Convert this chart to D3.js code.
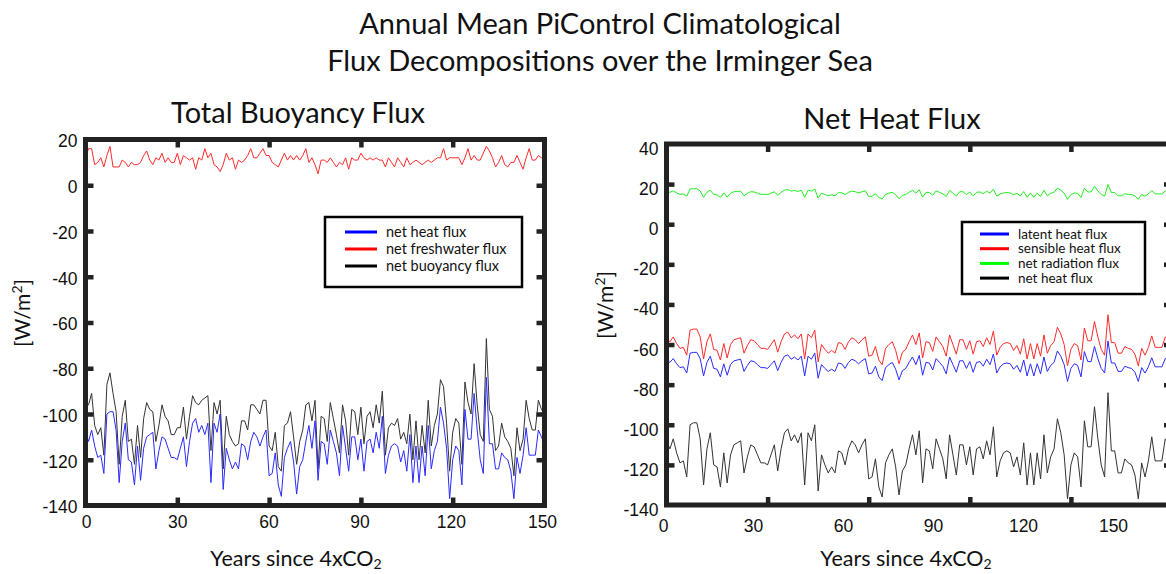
<!DOCTYPE html>
<html><head><meta charset="utf-8">
<script src="https://cdn.jsdelivr.net/npm/d3@7"></script>
<style>body{margin:0;background:#fff}svg{display:block}</style>
</head><body>
<svg id="chart" width="1166" height="574"></svg>
<script>
// ---------- data (annual means, W/m^2), years 0..150 ----------
const years = d3.range(0, 151);
const xTickValues = [0, 30, 60, 90, 120, 150];
const xTickMarks = [30, 60, 90, 120];
const yTicksLeft = [20, 0, -20, -40, -60, -80, -100, -120, -140];
const yTicksRight = [40, 20, 0, -20, -40, -60, -80, -100, -120, -140];

const netHeatFlux = [
-108,-112,-107,-114,-119,-118,-126,-100,-99,-99,
-107,-130,-112,-104,-120,-121,-131,-114,-129,-115,
-110,-109,-108,-124,-116,-110,-111,-115,-119,-119,
-120,-115,-110,-123,-112,-104,-102,-108,-105,-109,
-104,-130,-104,-108,-100,-133,-115,-120,-124,-121,
-124,-113,-114,-120,-112,-108,-110,-114,-110,-107,
-127,-126,-117,-131,-136,-119,-115,-112,-121,-135,
-123,-120,-112,-105,-115,-103,-129,-112,-113,-122,
-107,-112,-117,-127,-105,-115,-125,-110,-110,-120,
-111,-125,-112,-111,-117,-108,-115,-101,-126,-118,
-114,-113,-114,-121,-116,-125,-109,-130,-114,-130,
-114,-127,-105,-124,-116,-112,-97,-104,-115,-137,
-120,-114,-116,-131,-98,-111,-111,-91,-107,-120,
-126,-84,-113,-113,-124,-124,-117,-119,-120,-125,
-137,-119,-126,-118,-106,-118,-118,-118,-107,-110,
-113];

const netFreshwaterFlux = [
12,16,16,9,10,12,8,13,17,8,
8,8,11,10,8,10,9,9,10,13,
15,11,9,12,11,14,10,12,10,10,
14,9,13,12,11,12,7,12,11,16,
12,14,9,8,6,9,14,11,12,7,
11,10,11,13,16,12,12,14,16,13,
13,10,9,8,11,14,11,13,11,13,
11,13,16,10,12,9,5,11,11,10,
12,10,8,10,9,12,7,12,11,11,
14,12,11,12,11,12,11,11,8,12,
10,8,12,10,8,12,9,10,11,10,
9,10,11,10,11,12,12,16,11,12,
12,12,12,9,12,16,11,13,11,11,
14,17,15,12,8,10,13,9,8,10,
10,13,10,7,12,16,11,11,13,12,
13];

const netBuoyancyFlux = [
-96,-96,-91,-105,-109,-106,-118,-87,-82,-91,
-99,-122,-101,-94,-112,-111,-122,-105,-119,-102,
-95,-98,-99,-112,-105,-96,-101,-103,-109,-109,
-106,-106,-97,-111,-101,-92,-95,-96,-94,-93,
-92,-116,-95,-100,-94,-124,-101,-109,-112,-114,
-113,-103,-103,-107,-96,-96,-98,-100,-94,-94,
-114,-116,-108,-123,-125,-105,-104,-99,-110,-122,
-112,-107,-96,-95,-103,-94,-124,-101,-102,-112,
-95,-102,-109,-117,-96,-103,-118,-98,-99,-109,
-97,-113,-101,-99,-106,-96,-104,-90,-118,-106,
-104,-105,-102,-111,-108,-113,-100,-120,-103,-120,
-105,-117,-94,-114,-105,-100,-85,-88,-104,-125,
-108,-102,-104,-122,-86,-95,-100,-78,-96,-109,
-112,-67,-98,-101,-116,-114,-104,-110,-112,-115,
-127,-106,-116,-111,-94,-102,-107,-107,-94,-98,
-100];

const sensibleHeatFlux = [
-56.6,-58.6,-56.2,-59.5,-61.9,-61.4,-65.3,-52.8,-52.3,-52.3,
-56.2,-67.2,-58.6,-54.7,-62.4,-62.9,-67.7,-59.5,-66.7,-60,
-57.6,-57.1,-56.6,-64.3,-60.5,-57.6,-58.1,-60,-61.9,-61.9,
-62.4,-60,-57.6,-63.8,-58.6,-54.7,-53.8,-56.6,-55.2,-57.1,
-54.7,-67.2,-54.7,-56.6,-52.8,-68.6,-60,-62.4,-64.3,-62.9,
-64.3,-59,-59.5,-62.4,-58.6,-56.6,-57.6,-59.5,-57.6,-56.2,
-65.8,-65.3,-61,-67.7,-70.1,-61.9,-60,-58.6,-62.9,-69.6,
-63.8,-62.4,-58.6,-55.2,-60,-54.2,-66.7,-58.6,-59,-63.4,
-56.2,-58.6,-61,-65.8,-55.2,-60,-64.8,-57.6,-57.6,-62.4,
-58.1,-64.8,-58.6,-58.1,-61,-56.6,-60,-53.3,-65.3,-61.4,
-59.5,-59,-59.5,-62.9,-60.5,-64.8,-57.1,-67.2,-59.5,-67.2,
-59.5,-65.8,-55.2,-64.3,-60.5,-58.6,-51.4,-54.7,-60,-70.6,
-62.4,-59.5,-60.5,-67.7,-51.8,-58.1,-58.1,-48.5,-56.2,-62.4,
-65.3,-45.1,-59,-59,-64.3,-64.3,-61,-61.9,-62.4,-64.8,
-70.6,-61.9,-65.3,-61.4,-55.7,-61.4,-61.4,-61.4,-56.2,-57.6,
-59];

const latentHeatFlux = [
-67.3,-68.9,-67,-69.6,-71.5,-71.1,-74.2,-64.3,-63.9,-63.9,
-67,-75.7,-68.9,-65.8,-71.9,-72.3,-76.1,-69.6,-75.3,-70,
-68.1,-67.7,-67.3,-73.4,-70.4,-68.1,-68.5,-70,-71.5,-71.5,
-71.9,-70,-68.1,-73,-68.9,-65.8,-65.1,-67.3,-66.2,-67.7,
-65.8,-75.7,-65.8,-67.3,-64.3,-76.8,-70,-71.9,-73.4,-72.3,
-73.4,-69.2,-69.6,-71.9,-68.9,-67.3,-68.1,-69.6,-68.1,-67,
-74.6,-74.2,-70.8,-76.1,-78,-71.5,-70,-68.9,-72.3,-77.6,
-73,-71.9,-68.9,-66.2,-70,-65.4,-75.3,-68.9,-69.2,-72.7,
-67,-68.9,-70.8,-74.6,-66.2,-70,-73.8,-68.1,-68.1,-71.9,
-68.5,-73.8,-68.9,-68.5,-70.8,-67.3,-70,-64.7,-74.2,-71.1,
-69.6,-69.2,-69.6,-72.3,-70.4,-73.8,-67.7,-75.7,-69.6,-75.7,
-69.6,-74.6,-66.2,-73.4,-70.4,-68.9,-63.2,-65.8,-70,-78.4,
-71.9,-69.6,-70.4,-76.1,-63.5,-68.5,-68.5,-60.9,-67,-71.9,
-74.2,-58.2,-69.2,-69.2,-73.4,-73.4,-70.8,-71.5,-71.9,-73.8,
-78.4,-71.5,-74.2,-71.1,-66.6,-71.1,-71.1,-71.1,-67,-68.1,
-69.2];

const netRadiationFlux = [
16.5,15.9,16.6,15.6,14.9,15.1,14,17.6,17.7,17.7,
16.6,13.4,15.9,17,14.8,14.7,13.3,15.6,13.5,15.5,
16.2,16.3,16.5,14.2,15.4,16.2,16.1,15.5,14.9,14.9,
14.8,15.5,16.2,14.4,15.9,17,17.3,16.5,16.9,16.3,
17,13.4,17,16.5,17.6,13,15.5,14.8,14.2,14.7,
14.2,15.8,15.6,14.8,15.9,16.5,16.2,15.6,16.2,16.6,
13.8,14,15.2,13.3,12.6,14.9,15.5,15.9,14.7,12.7,
14.4,14.8,15.9,16.9,15.5,17.2,13.5,15.9,15.8,14.5,
16.6,15.9,15.2,13.8,16.9,15.5,14.1,16.2,16.2,14.8,
16.1,14.1,15.9,16.1,15.2,16.5,15.5,17.5,14,15.1,
15.6,15.8,15.6,14.7,15.4,14.1,16.3,13.4,15.6,13.4,
15.6,13.8,16.9,14.2,15.4,15.9,18,17,15.5,12.4,
14.8,15.6,15.4,13.3,17.9,16.1,16.1,18.9,16.6,14.8,
14,19.8,15.8,15.8,14.2,14.2,15.2,14.9,14.8,14.1,
12.4,14.9,14,15.1,16.8,15.1,15.1,15.1,16.6,16.2,
15.8];

const titleLines = ["Annual Mean PiControl Climatological", "Flux Decompositions over the Irminger Sea"];

// ---------- drawing ----------
const svg = d3.select("#chart");
const FRAME = "#222";
const sansT = "Lato, 'Open Sans', sans-serif";
const sansN = "'Liberation Sans', Arial, sans-serif";
const plainNum = d => String(d);   // hyphen-minus, as in the reference

svg.append("text").attr("x", 600).attr("y", 34).attr("text-anchor", "middle")
  .attr("font-family", sansT).attr("font-size", 29).attr("fill", "#111").text(titleLines[0]);
svg.append("text").attr("x", 600).attr("y", 71).attr("text-anchor", "middle")
  .attr("font-family", sansT).attr("font-size", 29).attr("fill", "#111").text(titleLines[1]);

function drawPanel(cfg) {
  const x = d3.scaleLinear().domain([0, 150]).range([cfg.x0, cfg.x1]);
  const y = d3.scaleLinear().domain(cfg.yDomain).range([cfg.yBottom, cfg.yTop]);
  const g = svg.append("g");

  // series
  const line = d3.line().x((d, i) => x(years[i])).y(d => y(d));
  cfg.series.forEach(s => {
    g.append("path").datum(s.values).attr("d", line)
      .attr("fill", "none").attr("stroke", s.color).attr("stroke-width", 1)
      .attr("stroke-linejoin", "round");
  });

  // frame
  g.append("rect").attr("x", cfg.x0).attr("y", cfg.yTop)
    .attr("width", cfg.x1 - cfg.x0).attr("height", cfg.yBottom - cfg.yTop)
    .attr("fill", "none").attr("stroke", FRAME).attr("stroke-width", 5);

  // inward tick marks
  const tickStyle = sel => {
    sel.select(".domain").remove();
    sel.selectAll(".tick line").attr("stroke", FRAME).attr("stroke-width", 4.5);
  };
  g.append("g").attr("transform", `translate(0,${cfg.yBottom})`)
    .call(d3.axisBottom(x).tickValues(xTickMarks).tickSize(-8).tickFormat("")).call(tickStyle);
  g.append("g").attr("transform", `translate(0,${cfg.yTop})`)
    .call(d3.axisTop(x).tickValues(xTickMarks).tickSize(-8).tickFormat("")).call(tickStyle);
  const innerY = cfg.yTicks.slice(1, -1);
  g.append("g").attr("transform", `translate(${cfg.x0},0)`)
    .call(d3.axisLeft(y).tickValues(innerY).tickSize(-8).tickFormat("")).call(tickStyle);
  g.append("g").attr("transform", `translate(${cfg.x1},0)`)
    .call(d3.axisRight(y).tickValues(innerY).tickSize(-8).tickFormat("")).call(tickStyle);

  // y tick labels
  const yl = g.append("g").attr("transform", `translate(${cfg.x0},0)`)
    .call(d3.axisLeft(y).tickValues(cfg.yTicks).tickSize(0).tickPadding(cfg.yPad).tickFormat(plainNum));
  yl.select(".domain").remove();
  yl.selectAll("text").attr("font-family", sansN).attr("font-size", 17.5).attr("fill", "#111").attr("dy", cfg.yDy);

  // x tick labels
  const xLab = d3.scaleLinear().domain([0, 150]).range(cfg.xLabelRange);
  const xl = g.append("g").attr("transform", `translate(0,${cfg.yBottom})`)
    .call(d3.axisBottom(xLab).tickValues(xTickValues).tickSize(0).tickPadding(cfg.xPad).tickFormat(plainNum));
  xl.select(".domain").remove();
  xl.selectAll("text").attr("font-family", sansN).attr("font-size", 17.5).attr("fill", "#111");

  // panel title
  svg.append("text").attr("x", cfg.titleX).attr("y", cfg.titleY).attr("text-anchor", "middle")
    .attr("font-family", sansT).attr("font-size", 29).attr("fill", "#111").text(cfg.title);

  // y axis title [W/m2]
  const yt = svg.append("text").attr("transform", `translate(${cfg.yTitleX},${cfg.yTitleY}) rotate(-90)`)
    .attr("text-anchor", "middle").attr("font-family", sansT).attr("font-size", 21).attr("fill", "#111");
  yt.append("tspan").text("[W/m");
  yt.append("tspan").attr("font-size", 14).attr("dy", -8).text("2");
  yt.append("tspan").attr("dy", 8).text("]");

  // x axis title
  const xt = svg.append("text").attr("x", cfg.xTitleX).attr("y", 566).attr("text-anchor", "middle")
    .attr("font-family", sansT).attr("font-size", 21.5).attr("fill", "#111");
  xt.append("tspan").text("Years since 4xCO");
  xt.append("tspan").attr("font-size", 14).attr("dy", 3).text("2");

  // legend
  const L = cfg.legend;
  svg.append("rect").attr("x", L.x).attr("y", L.y).attr("width", L.w).attr("height", L.h)
    .attr("fill", "#fff").attr("stroke", "#000").attr("stroke-width", 2.5);
  L.items.forEach((it, i) => {
    const yy = L.y + L.first + i * L.step;
    svg.append("line").attr("x1", L.x + L.lx1).attr("x2", L.x + L.lx2).attr("y1", yy).attr("y2", yy)
      .attr("stroke", it.color).attr("stroke-width", 3);
    svg.append("text").attr("x", L.x + L.tx).attr("y", yy).attr("dy", "0.35em")
      .attr("font-family", sansT).attr("font-size", L.fs).attr("fill", "#111").text(it.label);
  });
}

const BLUE = "#2a2aff", RED = "#ff2a2a", GREEN = "#22ee22", BLACK = "#333";

drawPanel({
  x0: 85.5, x1: 544.5, yTop: 139.5, yBottom: 505.5, yDomain: [-140, 20],
  yTicks: yTicksLeft, yPad: 8, yDy: "0.42em", xPad: 10, xLabelRange: [86, 542],
  title: "Total Buoyancy Flux", titleX: 298, titleY: 123,
  yTitleX: 30, yTitleY: 313, xTitleX: 296,
  series: [
    {values: netFreshwaterFlux, color: RED},
    {values: netBuoyancyFlux, color: BLACK},
    {values: netHeatFlux, color: BLUE}
  ],
  legend: {x: 325, y: 217, w: 197, h: 70, first: 15, step: 17, lx1: 20, lx2: 52, tx: 61, fs: 14.5,
    items: [{label: "net heat flux", color: "#0000ff"}, {label: "net freshwater flux", color: "#ff0000"}, {label: "net buoyancy flux", color: "#000"}]}
});

drawPanel({
  x0: 666.5, x1: 1172, yTop: 144, yBottom: 505, yDomain: [-140, 40],
  yTicks: yTicksRight, yPad: 8, yDy: "0.6em", xPad: 15, xLabelRange: [663, 1113],
  title: "Net Heat Flux", titleX: 892, titleY: 129,
  yTitleX: 613, yTitleY: 305, xTitleX: 906,
  series: [
    {values: netRadiationFlux, color: GREEN},
    {values: sensibleHeatFlux, color: RED},
    {values: latentHeatFlux, color: BLUE},
    {values: netHeatFlux, color: BLACK}
  ],
  legend: {x: 962, y: 222, w: 183, h: 72, first: 12, step: 14.7, lx1: 18, lx2: 47, tx: 56, fs: 13.5,
    items: [{label: "latent heat flux", color: "#0000ff"}, {label: "sensible heat flux", color: "#ff0000"}, {label: "net radiation flux", color: "#00ff00"}, {label: "net heat flux", color: "#000"}]}
});
</script>
</body></html>
